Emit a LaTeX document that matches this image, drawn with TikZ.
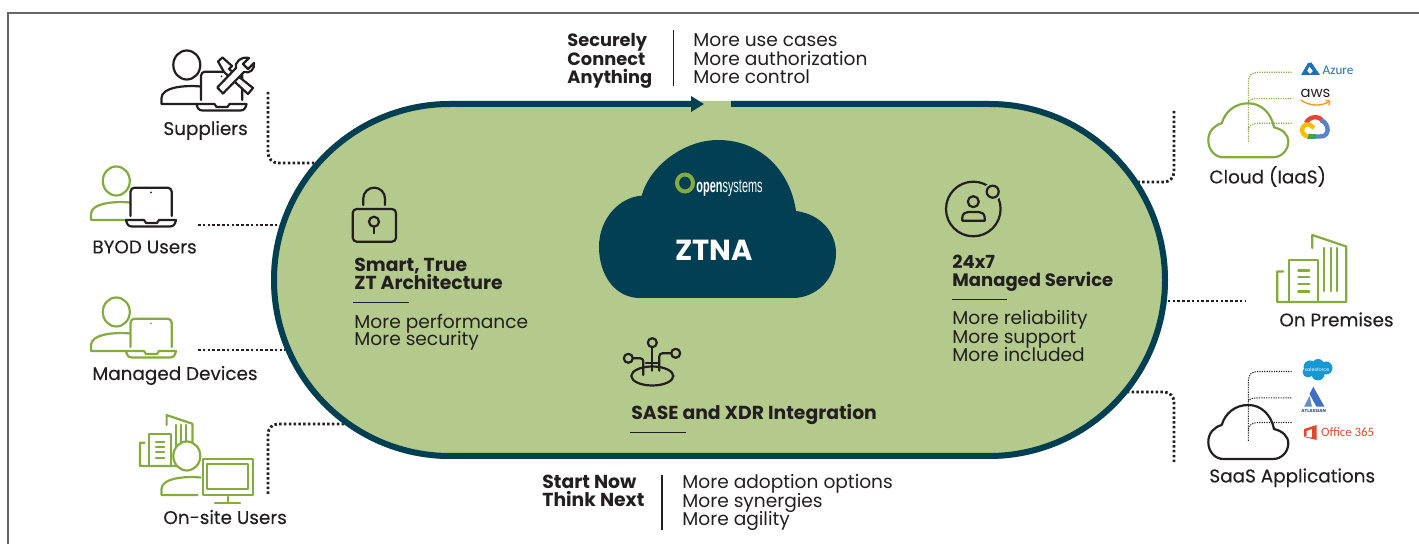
\documentclass[tikz,border=0pt]{standalone}
\usepackage{fontspec}
\setmainfont{Poppins}
\newfontfamily\labelfont[FakeBold=0.3]{Poppins}
\newfontfamily\logofont[FakeStretch=0.57]{Liberation Sans}
\newfontfamily\brandfont{Carlito}
\usetikzlibrary{arrows.meta,positioning}
\lineskiplimit=-20pt

\definecolor{ringteal}{HTML}{023F52}
\definecolor{zonegreen}{HTML}{B4CA8C}
\definecolor{icongreen}{HTML}{84AB3F}
\definecolor{inkblack}{HTML}{231F20}
\definecolor{azureblue}{HTML}{1F6FB8}
\definecolor{awsorange}{HTML}{F79A1E}
\definecolor{forceblue}{HTML}{1798D5}
\definecolor{atlasblue}{HTML}{3F6FC0}
\definecolor{officered}{HTML}{E2492C}
\definecolor{googlered}{HTML}{EA4335}
\definecolor{googleblue}{HTML}{5A82C8}
\definecolor{googlegreen}{HTML}{34A853}
\definecolor{googleyellow}{HTML}{FBBC05}

\tikzset{
    iconline/.style={line width=1.1pt, line join=round, line cap=round},
    dotlink/.style={inkblack, line width=1.4pt, dash pattern=on 1.25pt off 1.15pt, rounded corners=5pt},
    treelink/.style={line width=.55pt, dash pattern=on .6pt off .6pt},
    rulethin/.style={inkblack, line width=.6pt},
    bodytext/.style={anchor=base west, align=left, inner sep=0pt, text=inkblack, font=\fontsize{9.3}{9.25}\selectfont},
    headtext/.style={anchor=base west, align=left, inner sep=0pt, text=inkblack, font=\fontsize{9.4}{9}\selectfont\bfseries},
    sidetext/.style={anchor=base west, inner sep=0pt, text=inkblack, font=\labelfont\fontsize{9.2}{9.35}\selectfont},
    pics/personicon/.style={code={
        \draw[iconline, #1, fill=white] (25.3,-39) ellipse[x radius=13.5, y radius=14.5];
        \draw[iconline, #1] (39,-17.5) .. controls (24,-19) and (0,-17) .. (0,-6) -- (0,0) -- (36,0);
    }},
    pics/laptopicon/.style={code={
        \draw[iconline, #1, rounded corners=2pt] (39.5,-4) -- (39.5,-32.3) -- (80.7,-32.3) -- (80.7,-4);
        \fill[#1] (60,-27.5) circle (1);
        \draw[iconline, #1] (35,0) -- (53,0) -- (55,3) -- (66,3) -- (68,0) -- (85,0)
            .. controls (84,4) and (83,6.5) .. (79,6.5) -- (41,6.5) .. controls (37,6.5) and (36,4) .. (35,0);
    }},
    pics/buildingicon/.style={code={
        \draw[iconline, icongreen] (6,-30.5) -- (0,-30.5) -- (0,0) -- (69,0) -- (69,-55.5) -- (35,-67) -- (35,-54);
        \draw[iconline, icongreen] (12,0) -- (12,-42) -- (41,-42) -- (41,0);
        \foreach \y in {-31.5,-25,-18,-10.5}
            \draw[iconline, icongreen] (21,\y) -- (32,\y);
        \foreach \x in {47,54,60}
            \draw[iconline, icongreen] (\x,-54) -- (\x,-11);
    }},
    pics/cloudicon/.style={code={
        \draw[iconline, #1] (-26.6,20) .. controls (-23,8) and (-13,0) .. (0,0)
            .. controls (13,0) and (23,10) .. (25.7,24) .. controls (34,26) and (40,31) .. (40,38.4)
            .. controls (40,47) and (33,54) .. (25,54) -- (-25,54)
            .. controls (-33,54) and (-40,47) .. (-40,37) .. controls (-40,28) and (-34,22) .. (-26.6,20);
    }},
    pics/treeicon/.style={code={
        \draw[treelink, #1] (0,38.4) -- (0,-21) .. controls (0,-28) and (3,-31) .. (10,-31) -- (43.4,-31);
        \draw[treelink, #1] (0,-1) .. controls (0,-3.5) and (4,-4.6) .. (10,-4.6) -- (43.4,-4.6);
        \draw[treelink, #1] (0,27) .. controls (0,23) and (4,20) .. (10,20) -- (43.4,20);
    }},
}

\begin{document}
\begin{tikzpicture}[x=.5pt, y=-.5pt]
    \useasboundingbox (0,0) rectangle (1419,544);

    % Frame
    \draw[gray!80!black, line width=.7pt] (8,544) -- (8,13) -- (1419,13);

    % Connector ends
    \coordinate (supplierTop) at (268,92);
    \coordinate (supplierEnd) at (316,163);
    \coordinate (byodStart) at (198,225);
    \coordinate (byodEnd) at (280,225);
    \coordinate (managedStart) at (198,350);
    \coordinate (managedEnd) at (289,350);
    \coordinate (onsiteLow) at (268,494);
    \coordinate (onsiteEnd) at (350,424);
    \coordinate (cloudTop) at (1174,111);
    \coordinate (cloudEnd) at (1133,182);
    \coordinate (premStart) at (1163,301);
    \coordinate (premEnd) at (1245,301);
    \coordinate (saasStart) at (1122,392);
    \coordinate (saasLow) at (1174,464);

    % Dotted links
    \draw[dotlink] (supplierTop) |- (supplierEnd);
    \draw[dotlink] (byodStart) -- (byodEnd);
    \draw[dotlink] (managedStart) -- (managedEnd);
    \draw[dotlink] (onsiteLow) |- (onsiteEnd);
    \draw[dotlink] (cloudTop) |- (cloudEnd);
    \draw[dotlink] (premStart) -- (premEnd);
    \draw[dotlink] (saasStart) -| (saasLow);

    % Green zone with its ring
    \draw[fill=zonegreen, draw=zonegreen, line width=3pt] (450,104) -- (989,104)
        arc[start angle=-90, end angle=90, radius=176] -- (450,456)
        arc[start angle=90, end angle=270, radius=176] -- cycle;
    \draw[ringteal, line width=3pt, -{Triangle[length=6.5pt, width=7.5pt]}] (731,104) -- (989,104)
        arc[start angle=-90, end angle=90, radius=176] -- (450,456)
        arc[start angle=90, end angle=270, radius=176] -- (704,104);

    % Top and bottom captions
    \node[headtext, font=\fontsize{8.9}{9.15}\selectfont\bfseries] (connectHead) at (567,83.5) {Securely\\Connect\\Anything};
    \draw[rulethin] (673.5,30) -- (673.5,86);
    \node[bodytext] (connectList) at (693,84) {More use cases\\More authorization\\More control};
    \node[headtext] (startHead) at (542,507) {Start Now\\Think Next};
    \draw[rulethin] (662,475) -- (662,530);
    \node[bodytext] (startList) at (682,526) {More adoption options\\More synergies\\More agility};

    % Central cloud
    \fill[ringteal] (641.7,195.7) .. controls (650,165) and (685,140) .. (718,140)
        .. controls (760,140) and (790,170) .. (796,211)
        .. controls (820,214) and (836,232) .. (836,253)
        .. controls (836,280) and (815,298) .. (793,298) -- (640,298)
        .. controls (615,298) and (599,275) .. (599,247)
        .. controls (599,218) and (620,197) .. (641.7,195.7);
    \draw[icongreen, line width=2pt] (685,183) ellipse[x radius=8, y radius=8.5];
    \node[anchor=base west, inner sep=0pt, text=white, font=\logofont\fontsize{9.6}{10}\selectfont] (logoText) at (696,193) {\textbf{open}systems};
    \node[inner sep=0pt, text=white, font=\fontsize{14.5}{15}\selectfont\bfseries] (ztnaText) at (714,250) {ZTNA};

    % Lock
    \draw[iconline, inkblack, rounded corners=2pt] (352.7,209) rectangle (396,241.7);
    \draw[iconline, inkblack] (363.3,205) -- (363.3,198.5) arc[start angle=180, end angle=360, radius=10.85] -- (385,205);
    \draw[iconline, inkblack] (374,221.7) circle (5);
    \draw[iconline, inkblack] (374,226.7) -- (374,233.3);
    \node[headtext] (smartHead) at (354,289.3) {Smart, True\\ZT Architecture};
    \draw[rulethin] (353.3,302.3) -- (409,302.3);
    \node[bodytext, font=\fontsize{9.3}{8.8}\selectfont] (smartList) at (354,345.7) {More performance\\More security};

    % Managed service
    \draw[iconline, inkblack] (973.3,209) circle (27.3);
    \fill[zonegreen] (992.7,191.7) circle (9);
    \draw[iconline, inkblack] (992.7,191.7) circle (6);
    \draw[iconline, inkblack] (973.3,201.7) circle (5.5);
    \draw[iconline, inkblack] (962.3,220.7) -- (962.3,218) .. controls (962.3,214) and (965,212) .. (968,212) -- (979,212)
        .. controls (982,212) and (984.7,214) .. (984.7,218) -- (984.7,220.7) -- cycle;
    \node[headtext, font=\fontsize{9}{9}\selectfont\bfseries] (serviceHead) at (952,286.3) {24x7\\Managed Service};
    \draw[rulethin] (951.7,299.3) -- (1007,299.3);
    \node[bodytext] (serviceList) at (952,361.7) {More reliability\\More support\\More included};

    % SASE
    \draw[iconline, inkblack] (652.3,376) ellipse[x radius=21, y radius=9.5];
    \draw[iconline, inkblack] (652.3,342.7) circle (4.5);
    \draw[iconline, inkblack] (628.3,358.3) circle (4.5);
    \draw[iconline, inkblack] (675.7,353.3) circle (4.5);
    \draw[iconline, inkblack] (652.3,348) -- (652.3,370.7);
    \draw[iconline, inkblack, rounded corners=1.5pt] (633,358.3) -- (643.3,358.3) -- (643.3,375);
    \draw[iconline, inkblack, rounded corners=1.5pt] (659.3,370.7) -- (659.3,353.3) -- (671,353.3);
    \draw[iconline, inkblack] (646,363.3) -- (659,363.3);
    \node[headtext] (saseHead) at (631,420) {SASE and XDR Integration};
    \draw[rulethin] (630,432.7) -- (685.7,432.7);

    % Left side icons
    \pic at (161.5,104) {personicon=inkblack};
    \pic at (161.5,104) {laptopicon=inkblack};
    \draw[iconline, inkblack, fill=white] (218,61.5) -- (222.5,57.5) -- (232,66) -- (229,69) -- (253,88) -- (248,94) -- (224,72) -- cycle;
    \draw[iconline, inkblack, fill=white] (217.3,87.5) -- (223,93.5) -- (244,72) .. controls (250,74) and (255,69) .. (254,63)
        -- (248,69) -- (243,64) -- (249,58) .. controls (241,56) and (234,63) .. (236,68) -- cycle;
    \node[sidetext] (suppliersLabel) at (163,135) {Suppliers};

    \pic at (91,220) {personicon=icongreen};
    \pic at (91,220) {laptopicon=inkblack};
    \node[sidetext] (byodLabel) at (92,253.4) {BYOD Users};

    \pic at (91,351) {personicon=icongreen};
    \pic at (91,351) {laptopicon=icongreen};
    \node[sidetext] (managedLabel) at (92,380) {Managed Devices};

    \pic[scale=.76] at (140,466) {buildingicon};
    \pic at (161.5,495) {personicon=icongreen};
    \draw[iconline, icongreen] (202.7,459.3) rectangle (253.3,495);
    \draw[iconline, icongreen] (206.7,464.3) rectangle (248.3,489.3);
    \draw[iconline, icongreen] (227.7,497) -- (227.7,503);
    \draw[iconline, icongreen] (215,503) -- (240,503);
    \node[sidetext] (onsiteLabel) at (163,524) {On-site Users};

    % Cloud (IaaS)
    \pic at (1248.3,103.3) {cloudicon=icongreen};
    \pic at (1248.3,103.3) {treeicon=icongreen};
    \node[sidetext] (cloudLabel) at (1209,183.4) {Cloud (IaaS)};
    \fill[azureblue] (1301,75) -- (1308,63) -- (1311,63) -- (1307,71) -- (1311,75) -- cycle;
    \fill[azureblue] (1311,62) -- (1320,75) -- (1309,75) -- (1313,71) -- (1309,66) -- cycle;
    \node[anchor=base west, inner sep=0pt, text=azureblue, font=\brandfont\fontsize{6.6}{7}\selectfont] (azureText) at (1322.3,75) {Azure};
    \node[anchor=base, inner sep=0pt, text=inkblack, font=\fontsize{7.4}{8}\selectfont] (awsText) at (1315.5,97.3) {aws};
    \draw[awsorange, line width=.7pt, -{Straight Barb[length=1.5pt, width=3pt]}] (1300.7,100) .. controls (1310,106.5) and (1322,106.5) .. (1330.5,100.5);
    \draw[line width=2.2pt, googlered] (1306,123) .. controls (1309,116) and (1320,115) .. (1323,122);
    \draw[line width=2.2pt, googleblue] (1321,120) .. controls (1330,124) and (1330,137) .. (1320,136.5) -- (1315,136.5);
    \draw[line width=2.2pt, googlegreen] (1316,136.5) -- (1307,136.5);
    \draw[line width=2.2pt, googleyellow] (1308,136.5) .. controls (1299,135) and (1301,122) .. (1310,125) -- (1314,128);

    % On premises
    \pic at (1277.3,302) {buildingicon};
    \node[sidetext] (premLabel) at (1279,326.4) {On Premises};

    % SaaS
    \pic at (1248.3,405) {cloudicon=inkblack};
    \pic at (1248.3,402.5) {treeicon=inkblack};
    \node[sidetext] (saasLabel) at (1209,482.4) {SaaS Applications};
    \fill[forceblue] (1310,367) circle (6.5) (1318,365) circle (6) (1326,368) circle (6.5) (1318,374) circle (6.5) (1308,372) circle (5.5);
    \node[inner sep=0pt, text=white, font=\fontsize{2.4}{3}\selectfont] (forceText) at (1317,369.5) {salesforce};
    \fill[atlasblue] (1313.3,386.7) -- (1324.5,406.7) -- (1316.5,406.7) -- (1309.5,394) -- cycle;
    \fill[atlasblue!80!white] (1309.5,396) -- (1312,406.7) -- (1304,406.7) -- cycle;
    \node[inner sep=0pt, text=atlasblue!70!black, font=\fontsize{2.2}{3}\selectfont\bfseries] (atlasText) at (1313.7,410.5) {ATLASSIAN};
    \fill[officered] (1304,429) -- (1316.7,425) -- (1316.7,440) -- (1304,437) -- (1312,437.5) -- (1312,429) -- (1306.5,431) -- (1306.5,436) -- (1304,437) -- cycle;
    \node[anchor=base west, inner sep=0pt, text=officered, font=\brandfont\fontsize{6.4}{7}\selectfont] (officeText) at (1320.7,437) {Office 365};
\end{tikzpicture}
\end{document}
